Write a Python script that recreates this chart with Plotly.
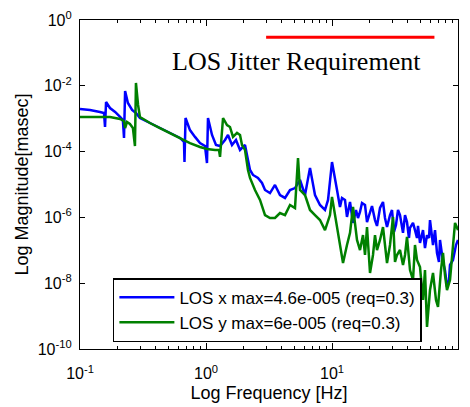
import plotly.graph_objects as go

# ---- data ----
freq_x = [0.1, 0.12, 0.144, 0.155, 0.158, 0.161, 0.173, 0.19, 0.208, 0.219, 0.2235, 0.228, 0.24, 0.259,
          0.278, 0.299, 0.359, 0.431, 0.518, 0.622, 0.669, 0.675, 0.688, 0.746, 0.818, 0.896, 0.982,
          1.018, 1.037, 1.116, 1.2, 1.292, 1.415, 1.495, 1.608, 1.73, 1.862, 2.04, 2.154, 2.235, 2.36,
          2.586, 2.783, 2.94, 3.22, 3.528, 3.866, 4.236, 4.642, 5.086, 5.572, 6.106, 6.69, 7.33, 8.03,
          8.80, 9.30, 10.0, 10.96, 11.57, 12.0, 12.68, 13.15, 13.9, 14.68, 15.5, 16.08, 16.68, 17.3,
          18.28, 18.96, 20.03, 20.77, 21.94, 22.76, 24.04, 25.4, 26.34, 27.33, 28.86, 29.94, 31.05,
          32.2, 33.41, 34.65, 36.6, 37.97, 39.37, 40.83, 41.6, 43.95, 45.57, 47.27, 48.14, 49.94,
          52.76, 54.7, 56.75, 58.86, 59.95, 63.34, 65.7, 68.13, 70.63, 71.97, 76.03, 78.84, 81.79,
          84.83, 86.4, 91.27, 96.4, 100.0]
mag_x = [1.97e-3, 1.84e-3, 1.6e-3, 1.49e-3, 5.6e-4, 3.22e-3, 2.11e-3, 1.6e-3, 1.13e-3, 9.1e-4, 2.6e-4,
         6.95e-3, 3.0e-3, 1.84e-3, 1.49e-3, 1.05e-3, 7.4e-4, 5.2e-4, 3.7e-4, 2.6e-4, 1.96e-4, 4.8e-5,
         1.05e-3, 4.5e-4, 2.8e-4, 1.82e-4, 1.48e-4, 4.5e-5, 1.05e-3, 3.2e-4, 1.59e-4, 1.48e-4, 2.25e-4,
         3.2e-4, 1.59e-4, 2.25e-4, 1.12e-4, 1.59e-4, 5.6e-5, 2.76e-5, 1.95e-5, 1.58e-5, 1.11e-5, 6.8e-6,
         5.5e-6, 9.7e-6, 4.8e-6, 3.9e-6, 6.8e-6, 7.8e-6, 1.37e-5, 4.8e-6, 3.2e-5, 4.8e-6, 2.38e-6,
         1.68e-6, 3.4e-6, 4.8e-5, 6.8e-6, 2.07e-6, 3.9e-6, 3.4e-6, 1.03e-6, 2.94e-6, 6.8e-7, 1.68e-6,
         9.6e-7, 1.46e-6, 2.74e-6, 2.38e-6, 7.2e-7, 1.36e-6, 2.22e-6, 8.3e-7, 5.5e-7, 1.93e-6, 2.94e-6,
         9.6e-7, 5.1e-7, 1.18e-6, 1.68e-6, 3.6e-7, 5.9e-7, 1.68e-6, 1.18e-6, 3.4e-7, 1.18e-6, 7.2e-7,
         2.37e-7, 4.8e-7, 6.8e-7, 4.1e-7, 2.37e-7, 5.5e-7, 1.67e-7, 4.1e-7, 1.17e-7, 2.9e-7, 2.37e-7,
         8.3e-7, 1.45e-7, 4.1e-7, 8.3e-8, 4.4e-8, 2.06e-7, 4.4e-8, 2.5e-8, 7.7e-9, 1.25e-8, 3.6e-8,
         5.1e-8, 1.45e-7, 2.06e-7]

freq_y = [0.1, 0.12, 0.144, 0.173, 0.208, 0.2235, 0.228, 0.236, 0.249, 0.263, 0.273, 0.278, 0.289, 0.299,
          0.328, 0.359, 0.431, 0.518, 0.622, 0.746, 0.896, 1.018, 1.179, 1.268, 1.292, 1.365, 1.468,
          1.55, 1.638, 1.762, 1.862, 1.931, 2.04, 2.154, 2.235, 2.448, 2.683, 2.94, 3.22, 3.528, 3.866,
          4.236, 4.642, 5.086, 5.373, 5.572, 6.106, 6.69, 7.33, 8.03, 8.80, 9.64, 10.0, 10.56, 10.96,
          11.57, 12.23, 13.15, 13.9, 14.68, 15.22, 15.79, 16.68, 17.62, 18.28, 18.96, 20.03, 21.15,
          21.94, 22.76, 24.04, 25.4, 26.34, 27.33, 28.86, 30.5, 31.62, 32.8, 34.65, 36.6, 37.97, 39.37,
          41.6, 43.95, 45.57, 47.27, 49.94, 52.76, 54.7, 56.75, 59.95, 63.34, 66.9, 69.4, 73.28, 76.03,
          78.84, 81.79, 86.4, 91.27, 94.7, 100.0]
mag_y = [1.13e-3, 1.13e-3, 1.13e-3, 1.13e-3, 9.8e-4, 8.5e-4, 5.2e-4, 7.9e-4, 6.9e-4, 5.2e-4, 1.48e-4,
         1.22e-2, 2.61e-3, 1.13e-3, 9.1e-4, 7.4e-4, 5.2e-4, 3.7e-4, 2.6e-4, 1.82e-4, 1.38e-4, 1.2e-4,
         1.12e-4, 1.12e-4, 6.9e-5, 1.05e-3, 6.4e-4, 5.6e-4, 2.8e-4, 3.7e-4, 3.2e-4, 1.59e-4, 1.12e-4,
         2.76e-5, 1.58e-5, 6.8e-6, 3.4e-6, 1.18e-6, 9.6e-7, 9.6e-7, 1.36e-6, 1.18e-6, 2.38e-6, 1.93e-6,
         6.4e-5, 6.8e-6, 4.8e-6, 1.68e-6, 1.18e-6, 8.3e-7, 4.1e-7, 1.18e-6, 4.2e-6, 1.18e-6, 5.1e-7,
         1.45e-7, 4.1e-8, 1.45e-7, 3.4e-7, 2.07e-6, 5.9e-7, 2.06e-7, 1.02e-7, 2.9e-7, 7.2e-8, 5.1e-7,
         2.04e-8, 7.2e-8, 2.9e-7, 1.02e-7, 2.06e-7, 5.1e-7, 1.45e-7, 4.1e-8, 1.45e-7, 1.03e-6, 4.4e-8,
         7.2e-8, 1.02e-7, 3.6e-8, 7.2e-8, 2.54e-7, 2.5e-8, 1.25e-8, 1.45e-7, 5.1e-8, 3.1e-8, 3.1e-9,
         2.5e-8, 4.7e-10, 6.2e-9, 2.04e-8, 3.1e-9, 1.9e-9, 2.5e-8, 8.3e-8, 1.77e-8, 6.2e-9, 1.25e-8,
         2.06e-7, 6.8e-7, 4.1e-7]

req_freq = [3.0, 65.0]
req_level = [0.3, 0.3]

series_names = ["LOS x max=4.6e-005 (req=0.3)", "LOS y max=6e-005 (req=0.3)"]
x_tickvals = [0.1, 1, 10, 100]
x_ticktext = ["10<sup>-1</sup>", "10<sup>0</sup>", "10<sup>1</sup>", "10<sup>2</sup>"]
y_tickvals = [1e-10, 1e-8, 1e-6, 1e-4, 1e-2, 1]
y_ticktext = ["10<sup>-10</sup>", "10<sup>-8</sup>", "10<sup>-6</sup>", "10<sup>-4</sup>",
              "10<sup>-2</sup>", "10<sup>0</sup>"]
x_minor = [m * 10 ** k for k in (-1, 0, 1) for m in range(2, 10)]

SANS = "Liberation Sans, Arial, sans-serif"

fig = go.Figure()
fig.add_trace(go.Scatter(x=freq_x, y=mag_x, mode="lines", name=series_names[0],
                         line=dict(color="#0000FF", width=2.5), legendgroup="a"))
fig.add_trace(go.Scatter(x=freq_y, y=mag_y, mode="lines", name=series_names[1],
                         line=dict(color="#008000", width=2.5), legendgroup="b"))
fig.add_trace(go.Scatter(x=req_freq, y=req_level, mode="lines", showlegend=False,
                         line=dict(color="#FF0000", width=3)))

fig.add_annotation(text="LOS Jitter Requirement", xref="paper", yref="paper", x=0.574, y=0.875,
                   xanchor="center", yanchor="middle", showarrow=False,
                   font=dict(family="Liberation Serif, Times New Roman, serif", size=26, color="black"))

axis_common = dict(showline=True, linecolor="black", linewidth=1.2, mirror="ticks",
                   ticks="inside", tickcolor="black", showgrid=False, zeroline=False, automargin=False,
                   tickfont=dict(family=SANS, size=16, color="black"))

fig.update_xaxes(type="log", range=[-1, 2], tickvals=x_tickvals, ticktext=x_ticktext, ticklen=6,
                 minor=dict(tickvals=x_minor, ticks="inside", ticklen=3, tickcolor="black"),
                 ticklabelstandoff=10,
                 title=dict(text="Log Frequency [Hz]", standoff=5,
                            font=dict(family=SANS, size=18, color="black")),
                 **axis_common)
fig.update_yaxes(type="log", range=[-10, 0], tickvals=y_tickvals, ticktext=y_ticktext, ticklen=5,
                 ticklabelstandoff=4,
                 title=dict(text="Log Magnitude[masec]", standoff=4,
                            font=dict(family=SANS, size=18, color="black")),
                 **axis_common)

fig.update_layout(
    width=470, height=407,
    margin=dict(l=80, r=12, t=20, b=58),
    paper_bgcolor="white", plot_bgcolor="white",
    showlegend=True,
    legend=dict(x=0.087, y=0.021, xanchor="left", yanchor="bottom",
                bgcolor="white", bordercolor="black", borderwidth=1.5,
                font=dict(family=SANS, size=17, color="black"),
                itemwidth=55, tracegroupgap=0, traceorder="grouped"),
)

fig.write_html("out.html", config={"displayModeBar": False},
               post_script="document.body.style.margin='0';document.body.style.overflow='hidden';")
